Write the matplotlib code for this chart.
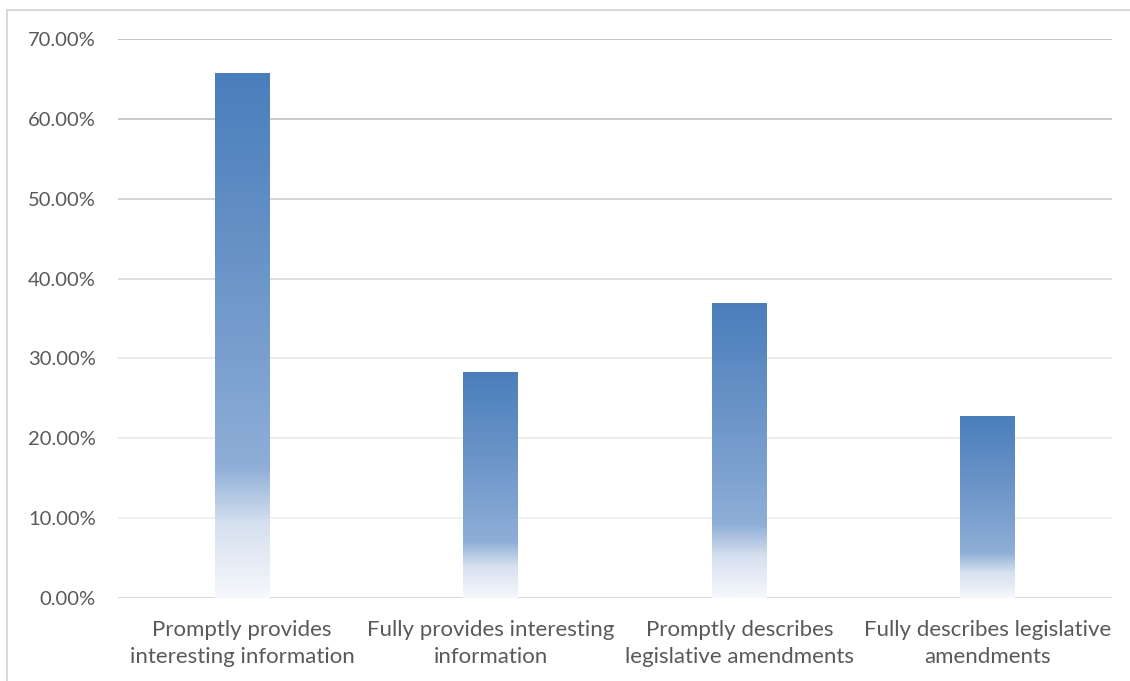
import numpy as np
import matplotlib.pyplot as plt
from matplotlib.colors import LinearSegmentedColormap
from matplotlib.patches import Rectangle
from matplotlib.ticker import FuncFormatter

categories = [
    "Promptly provides\ninteresting information",
    "Fully provides interesting\ninformation",
    "Promptly describes\nlegislative amendments",
    "Fully describes legislative\namendments",
]
values = [0.657, 0.282, 0.369, 0.227]

TEXT = "#595959"
plt.rcParams["font.family"] = ["Lato", "DejaVu Sans"]

# excel style "linear down" gradient, bottom (0) to top (1)
grad = LinearSegmentedColormap.from_list(
    "bar_grad",
    [(0.0, "#f5f8fc"), (0.14, "#d6e0ef"), (0.25, "#8eaed7"),
     (0.6, "#6d96c9"), (1.0, "#4a7ebb")],
)

fig = plt.figure(figsize=(11.3, 6.81), dpi=100)
W, H = 1130, 681
ax = fig.add_axes([118 / W, 1 - 598 / H, (1112 - 118) / W, (598 - 39) / H])

# chart border (cropped on right/bottom)
fig.patches.append(Rectangle((7 / W, -0.1), 1.2, 1 - 10 / H + 0.1,
                             transform=fig.transFigure, fill=False,
                             edgecolor="#d9d9d9", linewidth=1.5))

x = np.arange(len(categories))
width = 0.22
img = np.linspace(0, 1, 256).reshape(-1, 1)
for xi, v in zip(x, values):
    ax.imshow(img, cmap=grad, origin="lower", aspect="auto",
              extent=[xi - width / 2, xi + width / 2, 0, v], zorder=3)

ax.set_xlim(-0.5, len(categories) - 0.5)
ax.set_ylim(0, 0.7)

yt = np.arange(0, 0.71, 0.1)
ax.set_yticks(yt)
ax.yaxis.set_major_formatter(FuncFormatter(lambda v, p: f"{v * 100:.2f}%"))

# gridlines fade a bit towards the bottom, like the reference
grid_cols = ["#d9d9d9", "#f0f0f0", "#ececec", "#e8e8e8", "#dcdcdc",
             "#d0d0d0", "#c6c6c6", "#bfbfbf"]
for t, c in zip(yt, grid_cols):
    ax.axhline(t, color=c, linewidth=1.5 if t == 0 else 1.3, zorder=1)

ax.set_xticks(x)
ax.set_xticklabels(categories, fontsize=16, color=TEXT, linespacing=1.45)
ax.tick_params(axis="y", labelsize=14.5, labelcolor=TEXT, length=0, pad=16)
ax.tick_params(axis="x", length=0, pad=16)

for s in ax.spines.values():
    s.set_visible(False)

fig.savefig("out.png", dpi=100)
